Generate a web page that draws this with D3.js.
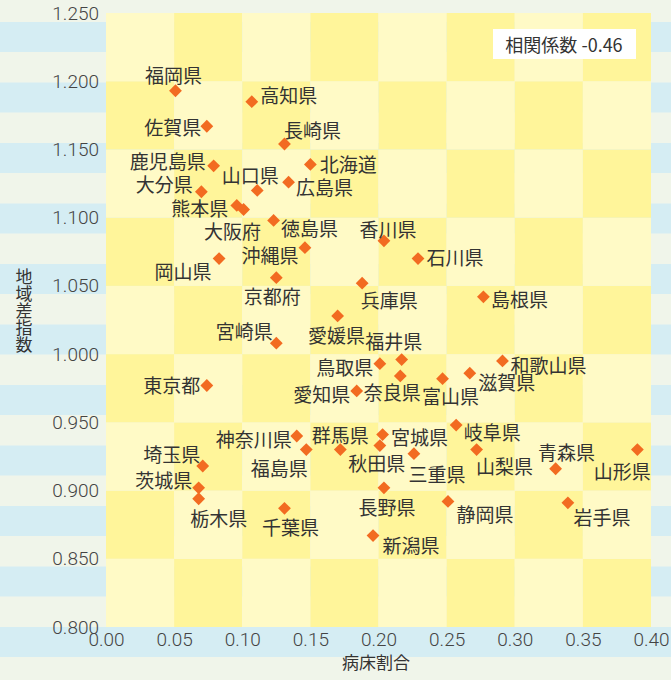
<!DOCTYPE html>
<html>
<head>
<meta charset="utf-8">
<script src="https://cdn.jsdelivr.net/npm/d3@7"></script>
<style>
  body { margin: 0; background: #f0f5ea; }
  svg { display: block; }
  .tick text { font-family: Roboto, "Noto Sans", sans-serif; font-weight: 300; fill: #444; }
  .lbl { font-family: "Noto Sans CJK JP", sans-serif; fill: #333; }
</style>
</head>
<body>
<script>
// 都道府県ごとの 病床割合 と 地域差指数
var prefs = ['福岡県','高知県','佐賀県','長崎県','鹿児島県','北海道','山口県','広島県','大分県','熊本県',
  '大阪府','徳島県','沖縄県','香川県','石川県','岡山県','京都府','兵庫県','島根県','愛媛県',
  '宮崎県','東京都','鳥取県','福井県','奈良県','愛知県','富山県','滋賀県','和歌山県','岐阜県',
  '山梨県','青森県','山形県','岩手県','静岡県','神奈川県','福島県','群馬県','宮城県','秋田県',
  '三重県','長野県','新潟県','埼玉県','茨城県','栃木県','千葉県'];
var bedRatio = [0.051,0.107,0.074,0.131,0.079,0.150,0.111,0.134,0.070,0.096,
  0.101,0.123,0.146,0.204,0.229,0.083,0.125,0.188,0.277,0.170,
  0.125,0.074,0.201,0.217,0.216,0.184,0.247,0.267,0.291,0.257,
  0.272,0.330,0.390,0.339,0.251,0.140,0.147,0.172,0.203,0.201,
  0.226,0.204,0.196,0.071,0.068,0.068,0.131];
var regionIndex = [1.193,1.185,1.167,1.154,1.138,1.139,1.120,1.126,1.119,1.109,
  1.106,1.098,1.078,1.083,1.070,1.070,1.056,1.052,1.042,1.028,
  1.008,0.977,0.993,0.996,0.984,0.973,0.982,0.986,0.995,0.948,
  0.930,0.916,0.930,0.891,0.892,0.940,0.930,0.930,0.941,0.933,
  0.927,0.902,0.867,0.918,0.902,0.894,0.887];
var xTicks = [0, 0.05, 0.10, 0.15, 0.20, 0.25, 0.30, 0.35, 0.40];
var yTicks = [0.80, 0.85, 0.90, 0.95, 1.00, 1.05, 1.10, 1.15, 1.20, 1.25];
var corrText = '相関係数 -0.46';

// ラベルの置き場所 (点からのずれ)
var labelOffset = {
  '福岡県':[-2,-16],'高知県':[37,-7],'佐賀県':[-34,0],'長崎県':[28,-14],'鹿児島県':[-46,-5],
  '北海道':[38,-1],'山口県':[-7,-16],'広島県':[36,4],'大分県':[-37,-8],'熊本県':[-37,2],
  '大阪府':[-11,21],'徳島県':[36,7],'沖縄県':[-35,7],'香川県':[4,-12],'石川県':[37,-2],
  '岡山県':[-36,12],'京都府':[-4,18],'兵庫県':[27,16],'島根県':[36,2],'愛媛県':[-1,19],
  '宮崎県':[-32,-13],'東京都':[-35,-1],'鳥取県':[-35,3],'福井県':[-8,-19],'奈良県':[-8,16],
  '愛知県':[-35,3],'富山県':[8,17],'滋賀県':[37,8],'和歌山県':[46,4],'岐阜県':[36,6],
  '山梨県':[28,16],'青森県':[11,-17],'山形県':[-15,21],'岩手県':[34,14],'静岡県':[37,12],
  '神奈川県':[-43,3],'福島県':[-27,18],'群馬県':[0,-15],'宮城県':[37,2],'秋田県':[-3,17],
  '三重県':[23,20],'長野県':[3,19],'新潟県':[38,9],'埼玉県':[-31,-12],'茨城県':[-35,-8],
  '栃木県':[20,19],'千葉県':[6,18]
};

var W = 671, H = 680;
var plot = { left: 106, right: 651, top: 13, bottom: 627 };

var svg = d3.select('body').append('svg')
  .attr('width', W).attr('height', H);

// 背景のしま模様
svg.append('rect').attr('width', W).attr('height', H).attr('fill', '#f0f5ea');
svg.append('g').selectAll('rect')
  .data(d3.range(11))
  .enter().append('rect')
  .attr('x', 0).attr('width', W)
  .attr('y', function(k) { return 22 + k * 60.5; })
  .attr('height', 30)
  .attr('fill', '#d5edf3');

var x = d3.scaleLinear().domain([0, 0.4]).range([plot.left, plot.right]);
var y = d3.scaleLinear().domain([0.8, 1.25]).range([plot.bottom, plot.top]);

// 市松模様
var cells = [];
for (var i = 0; i < xTicks.length - 1; i++) {
  for (var j = 0; j < yTicks.length - 1; j++) {
    cells.push({ c: i, r: j });
  }
}
svg.append('g').selectAll('rect')
  .data(cells)
  .enter().append('rect')
  .attr('x', function(d) { return x(xTicks[d.c]); })
  .attr('width', function(d) { return x(xTicks[d.c + 1]) - x(xTicks[d.c]); })
  .attr('y', function(d) { return y(yTicks[d.r + 1]); })
  .attr('height', function(d) { return y(yTicks[d.r]) - y(yTicks[d.r + 1]); })
  .attr('fill', function(d) { return (d.c + d.r) % 2 === 0 ? '#fffac6' : '#fff59a'; });

// 軸
var yAxis = svg.append('g')
  .attr('transform', 'translate(' + (plot.left - 7) + ',0)')
  .call(d3.axisLeft(y).tickValues(yTicks).tickFormat(d3.format('.3f')).tickSize(0).tickPadding(0));
yAxis.select('.domain').remove();
yAxis.selectAll('text').style('font-size', '19px');

var xAxis = svg.append('g')
  .attr('transform', 'translate(0,' + (plot.bottom + 5) + ')')
  .call(d3.axisBottom(x).tickValues(xTicks).tickFormat(d3.format('.2f')).tickSize(0).tickPadding(0));
xAxis.select('.domain').remove();
xAxis.selectAll('text').style('font-size', '19px');

// 軸タイトル
svg.append('text').attr('class', 'lbl')
  .attr('x', 24).attr('y', 311)
  .attr('text-anchor', 'middle')
  .style('writing-mode', 'vertical-rl')
  .style('font-size', '17px')
  .text('地域差指数');
svg.append('text').attr('class', 'lbl')
  .attr('x', 376).attr('y', 669)
  .attr('text-anchor', 'middle')
  .style('font-size', '17px')
  .text('病床割合');

// 相関係数
svg.append('rect').attr('x', 493).attr('y', 29).attr('width', 143).attr('height', 30).attr('fill', '#fff');
svg.append('text').attr('class', 'lbl')
  .attr('x', 564).attr('y', 44)
  .attr('text-anchor', 'middle').attr('dominant-baseline', 'central')
  .style('font-size', '18px')
  .text(corrText);

// 点
var pts = prefs.map(function(p, i) { return { name: p, bx: bedRatio[i], ri: regionIndex[i] }; });
var diamond = d3.symbol().type(d3.symbolSquare).size(82);

svg.append('g').selectAll('path')
  .data(pts)
  .enter().append('path')
  .attr('d', diamond)
  .attr('transform', function(d) { return 'translate(' + x(d.bx) + ',' + y(d.ri) + ') rotate(45)'; })
  .attr('fill', '#f26b21');

svg.append('g').selectAll('text')
  .data(pts)
  .enter().append('text')
  .attr('class', 'lbl')
  .attr('x', function(d) { return x(d.bx) + labelOffset[d.name][0]; })
  .attr('y', function(d) { return y(d.ri) + labelOffset[d.name][1]; })
  .attr('text-anchor', 'middle')
  .attr('dominant-baseline', 'central')
  .style('font-size', '19px')
  .text(function(d) { return d.name; });
</script>
</body>
</html>
